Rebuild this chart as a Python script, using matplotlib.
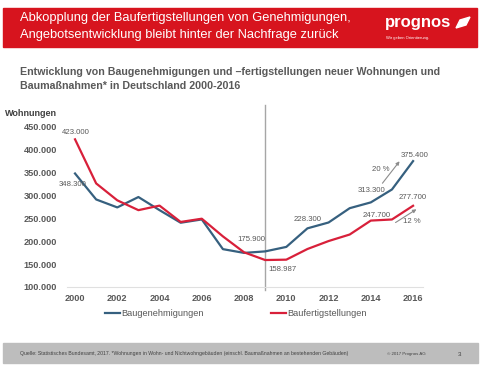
"""Baugenehmigungen vs. Baufertigstellungen 2000-2016 (Prognos slide)."""
import matplotlib.pyplot as plt
from matplotlib.patches import Rectangle, Polygon

plt.rcParams["font.family"] = ["Liberation Sans", "DejaVu Sans"]

years = list(range(2000, 2017))
genehmigungen = [348.3, 291.5, 274.1, 296.8, 268.1, 240.6, 247.8, 182.8, 174.6,
                 177.9, 187.7, 228.3, 241.1, 272.4, 285.1, 313.3, 375.4]
fertigstellungen = [423.0, 326.6, 289.6, 268.1, 278.0, 242.3, 249.4, 210.7, 175.9,
                    158.987, 159.8, 183.1, 200.5, 214.8, 245.3, 247.7, 277.7]
x_ticks = list(range(2000, 2017, 2))
y_ticks = [100, 150, 200, 250, 300, 350, 400, 450]

# (series, year, label, offset px)
labels = [
    ("F", 2000, "423.000", (1, 7)),
    ("G", 2000, "348.300", (-2, -11)),
    ("F", 2008, "175.900", (7, 13)),
    ("F", 2009, "158.987", (17, -9)),
    ("G", 2011, "228.300", (0, 9)),
    ("G", 2015, "313.300", (-20, -1)),
    ("F", 2015, "247.700", (-15, 4)),
    ("G", 2016, "375.400", (2, 6)),
    ("F", 2016, "277.700", (0, 8)),
]

W, H = 491, 366
BLUE = "#36607f"
RED = "#d8203a"
GREY = "#595959"


def fx(x):
    return x / W


def fy(y):
    return 1 - y / H


fig = plt.figure(figsize=(W / 100, H / 100), dpi=100)
fig.patch.set_facecolor("white")

# red banner
fig.patches.append(Rectangle((fx(3), fy(47)), fx(474), 39 / H, transform=fig.transFigure,
                             color="#d7141e", zorder=0))
fig.text(fx(20), fy(18), "Abkopplung der Baufertigstellungen von Genehmigungen,",
         color="white", fontsize=9.3, va="center")
fig.text(fx(20), fy(35), "Angebotsentwicklung bleibt hinter der Nachfrage zurück",
         color="white", fontsize=9.3, va="center")
fig.text(fx(385), fy(22), "prognos", color="white", fontsize=12, fontweight="bold",
         va="center")
fig.patches.append(Polygon([[fx(456), fy(28)], [fx(460), fy(20)], [fx(470), fy(17)],
                            [fx(466), fy(25)]], closed=True, transform=fig.transFigure,
                           color="white"))
fig.text(fx(386), fy(38), "Wir geben Orientierung.", color="white", fontsize=3,
         va="center")

# subtitle
fig.text(fx(20), fy(72),
         "Entwicklung von Baugenehmigungen und \u2013fertigstellungen neuer Wohnungen und",
         color=GREY, fontsize=7.7, fontweight="bold", va="center")
fig.text(fx(20), fy(86), "Baumaßnahmen* in Deutschland 2000-2016",
         color=GREY, fontsize=7.7, fontweight="bold", va="center")
fig.text(fx(5), fy(113), "Wohnungen", color="#404040", fontsize=6.5, fontweight="bold",
         va="center")

# chart
ax = fig.add_axes([fx(67), fy(287), fx(356), 160 / H])
ax.plot(years, genehmigungen, color=BLUE, lw=1.6, label="Baugenehmigungen")
ax.plot(years, fertigstellungen, color=RED, lw=1.6, label="Baufertigstellungen")
ax.axvline(2009, ymin=-0.02, ymax=1.14, color="#a6a6a6", lw=1, clip_on=False, zorder=0)

ax.set_xlim(1999.62, 2016.47)
ax.set_ylim(100, 450)
ax.set_xticks(x_ticks)
ax.set_yticks(y_ticks)
ax.set_yticklabels([f"{v}.000" for v in y_ticks])
ax.tick_params(length=0, colors=GREY, labelsize=6.6)
ax.tick_params(axis="y", pad=7)
ax.tick_params(axis="x", pad=5)
for t in ax.get_xticklabels() + ax.get_yticklabels():
    t.set_fontweight("bold")
for s in ["top", "right", "left"]:
    ax.spines[s].set_visible(False)
ax.spines["bottom"].set_color("#e0e0e0")
ax.spines["bottom"].set_linewidth(0.8)
ax.set_facecolor("none")

series = {"G": genehmigungen, "F": fertigstellungen}
for key, yr, txt, off in labels:
    val = series[key][years.index(yr)]
    ax.annotate(txt, (yr, val), xytext=(off[0] * 0.72, off[1] * 0.72),
                textcoords="offset points", ha="center", va="center",
                fontsize=5.6, color=GREY)

# growth arrows
arrow = dict(arrowstyle="-|>", color="#8c8c8c", lw=0.8, mutation_scale=5,
             shrinkA=0, shrinkB=0)
ax.annotate("", xy=(2015.36, 375), xytext=(2014.55, 327), arrowprops=arrow)
ax.text(2014.45, 357, "20 %", fontsize=5.6, color=GREY, ha="center", va="center")
ax.annotate("", xy=(2016.16, 270), xytext=(2015.17, 241), arrowprops=arrow)
ax.text(2015.92, 243, "12 %", fontsize=5.6, color=GREY, ha="center", va="center")

fig.legend(loc="center", bbox_to_anchor=(fx(236), fy(314)), ncol=2, frameon=False,
           fontsize=6.7, labelcolor=GREY, handlelength=1.6, handletextpad=0.1,
           columnspacing=7.3)

# footer bar
fig.patches.append(Rectangle((fx(3), fy(363)), fx(475), 20 / H, transform=fig.transFigure,
                             color="#bdbdbd", zorder=0))
fig.text(fx(20), fy(354),
         "Quelle: Statistisches Bundesamt, 2017. *Wohnungen in Wohn- und Nichtwohngebäuden "
         "(einschl. Baumaßnahmen an bestehenden Gebäuden)",
         fontsize=3.7, color="#404040", va="center")
fig.text(fx(387), fy(354), "© 2017 Prognos AG", fontsize=3.2, color="#404040", va="center")
fig.text(fx(458), fy(354), "3", fontsize=4.5, color="#404040", va="center")

fig.savefig("out.png", dpi=100)
